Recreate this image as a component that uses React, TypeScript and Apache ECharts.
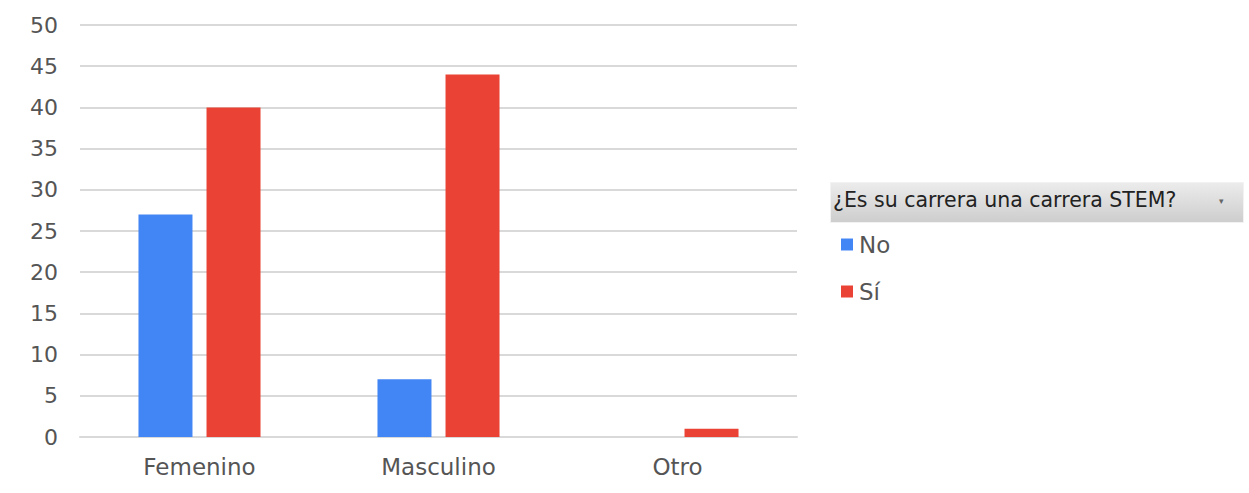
import React, { useEffect, useRef } from "react";
import * as echarts from "echarts";

const categories = ["Femenino", "Masculino", "Otro"];
const seriesNames = ["No", "Sí"];
const noValues = [27, 7, 0];
const siValues = [40, 44, 1];
const legendTitle = "¿Es su carrera una carrera STEM?";

export default function App() {
  const ref = useRef<HTMLDivElement>(null);
  useEffect(() => {
    if (!ref.current) return;
    const chart = echarts.init(ref.current, null, { renderer: "svg" });
    const font = "'DejaVu Sans', sans-serif";
    chart.setOption({
      animation: false,
      textStyle: { fontFamily: font },
      grid: { left: 80, right: 452, top: 25, bottom: 56 },
      xAxis: {
        type: "category",
        data: categories,
        axisLine: { lineStyle: { color: "#d9d9d9", width: 2 } },
        axisTick: { show: false },
        axisLabel: { color: "#555", fontSize: 23, margin: 18, fontFamily: font },
      },
      yAxis: {
        type: "value",
        min: 0,
        max: 50,
        interval: 5,
        axisLine: { show: false },
        axisTick: { show: false },
        splitLine: { lineStyle: { color: "#d9d9d9", width: 2 } },
        axisLabel: { color: "#555", fontSize: 22, margin: 22, fontFamily: font },
      },
      legend: {
        orient: "vertical",
        left: 841,
        top: 233,
        padding: 0,
        itemWidth: 12,
        itemHeight: 12,
        itemGap: 24,
        icon: "rect",
        textStyle: { color: "#555", fontSize: 23, fontFamily: font, padding: [0, 0, 0, 1] },
        data: seriesNames,
      },
      graphic: [
        {
          type: "rect",
          left: 830,
          top: 182,
          shape: { width: 413, height: 40 },
          style: {
            fill: new echarts.graphic.LinearGradient(0, 0, 0, 1, [
              { offset: 0, color: "#ececec" },
              { offset: 1, color: "#cdcdcd" },
            ]),
            stroke: "#f2f2f2",
            lineWidth: 1,
          },
        },
        {
          type: "text",
          left: 833,
          top: 189,
          style: { text: legendTitle, fontSize: 20.5, fill: "#222", fontFamily: font },
        },
        {
          type: "text",
          left: 1219,
          top: 196,
          style: { text: "▾", fontSize: 9, fill: "#666", fontFamily: font },
        },
      ],
      series: [
        {
          name: seriesNames[0],
          type: "bar",
          data: noValues,
          barWidth: 54,
          barGap: "26%",
          itemStyle: { color: "#4285F4" },
        },
        {
          name: seriesNames[1],
          type: "bar",
          data: siValues,
          barWidth: 54,
          itemStyle: { color: "#EA4335" },
        },
      ],
    });
    return () => chart.dispose();
  }, []);
  return <div ref={ref} style={{ width: 1249, height: 493, position: "absolute", left: 0, top: 0 }} />;
}
